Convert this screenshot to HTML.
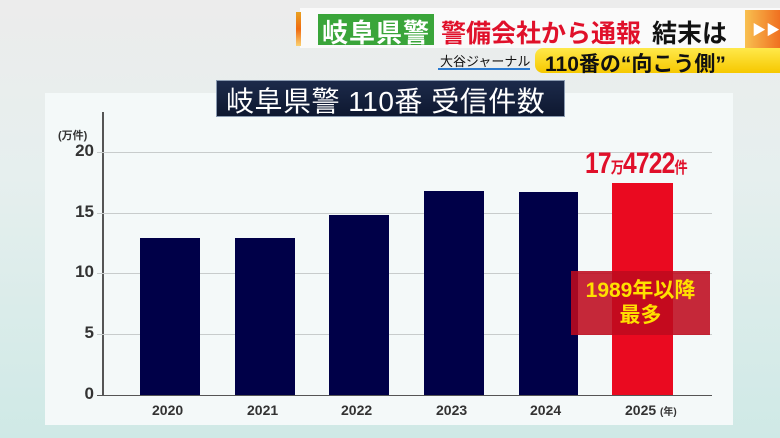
<!DOCTYPE html>
<html><head><meta charset="utf-8"><style>
body{margin:0;width:780px;height:438px;overflow:hidden;position:relative;font-family:"Liberation Sans","Noto Sans CJK JP",sans-serif;
background:linear-gradient(180deg,#ececec 0%,#e6efee 40%,#cfe9e6 100%);}
.a{position:absolute}
.t{position:absolute;font-weight:bold;white-space:nowrap}
</style></head><body>
<div class="a" style="left:45px;top:93px;width:688px;height:332px;background:#f4f9f9"></div>
<!-- header -->
<div class="a" style="left:300px;top:8px;width:480px;height:40px;background:#fafafa"></div>
<div class="a" style="left:296px;top:12px;width:5px;height:34px;background:linear-gradient(#e8a020,#f06a10,#fad070)"></div>
<div class="a" style="left:745px;top:10px;width:35px;height:40px;background:linear-gradient(90deg,#f8c050,#f07020)"></div>
<div class="t" style="left:752px;top:20px;color:#fff;font-size:14px">▶▶</div>
<div class="a" style="left:318px;top:14px;width:116px;height:31px;background:#3aa53a"></div>
<div class="t" style="left:322px;top:13px;color:#fff;font-size:26px;letter-spacing:1px">岐阜県警</div>
<div class="t" style="left:441px;top:14px;color:#e0102a;font-size:25px">警備会社から通報</div>
<div class="t" style="left:652px;top:14px;color:#111;font-size:25px">結末は</div>
<div class="a" style="left:535px;top:48px;width:245px;height:25px;background:linear-gradient(#ffe94a,#f6c800);border-radius:8px 0 0 8px"></div>
<div class="t" style="left:545px;top:48px;color:#111;font-size:21px">110番の“向こう側”</div>
<div class="t" style="left:440px;top:51px;color:#111;font-size:13px;font-weight:normal">大谷ジャーナル</div>
<div class="a" style="left:438px;top:68px;width:92px;height:2px;background:#2a7ad0"></div>
<!-- title -->
<div class="a" style="left:216px;top:80px;width:347px;height:35px;background:linear-gradient(#1c2a4a,#0e1830);border:1px solid #8a9ab0"></div>
<div class="t" style="left:226px;top:80px;color:#fff;font-size:28px;font-weight:normal;letter-spacing:0.5px">岐阜県警 110番 受信件数</div>
<!-- axes -->
<div class="a" style="left:102px;top:112px;width:1.5px;height:284px;background:#555"></div>
<div class="a" style="left:97px;top:394.5px;width:615px;height:1.5px;background:#555"></div>
<div class="a" style="left:97px;top:152px;width:615px;height:1px;background:#c8cccc"></div>
<div class="a" style="left:97px;top:213px;width:615px;height:1px;background:#c8cccc"></div>
<div class="a" style="left:97px;top:273px;width:615px;height:1px;background:#c8cccc"></div>
<div class="a" style="left:97px;top:334px;width:615px;height:1px;background:#c8cccc"></div>
<div class="t" style="left:58px;top:127px;font-size:11px;color:#333">(万件)</div>
<div class="t" style="left:70px;top:141px;font-size:17px;color:#333;width:24px;text-align:right">20</div>
<div class="t" style="left:70px;top:202px;font-size:17px;color:#333;width:24px;text-align:right">15</div>
<div class="t" style="left:70px;top:262px;font-size:17px;color:#333;width:24px;text-align:right">10</div>
<div class="t" style="left:70px;top:323px;font-size:17px;color:#333;width:24px;text-align:right">5</div>
<div class="t" style="left:70px;top:384px;font-size:17px;color:#333;width:24px;text-align:right">0</div>
<!-- bars -->
<div class="a" style="left:140px;top:238px;width:60px;height:157px;background:#000048"></div>
<div class="a" style="left:235px;top:238px;width:60px;height:157px;background:#000048"></div>
<div class="a" style="left:329px;top:215px;width:60px;height:180px;background:#000048"></div>
<div class="a" style="left:424px;top:191px;width:60px;height:204px;background:#000048"></div>
<div class="a" style="left:519px;top:192px;width:59px;height:203px;background:#000048"></div>
<div class="a" style="left:612px;top:183px;width:61px;height:212px;background:#ea0a20"></div>
<div class="a" style="left:571px;top:271px;width:139px;height:64px;background:rgba(190,10,30,0.88)"></div>
<div class="t" style="left:571px;top:278px;width:139px;text-align:center;color:#ffe000;font-size:21px;line-height:25px">1989年以降<br>最多</div>
<div class="t" style="left:585px;top:147px;color:#e0102a;font-size:30px;letter-spacing:-1px;transform:scaleX(0.82);transform-origin:left top">17<span style="font-size:16px">万</span>4722<span style="font-size:16px">件</span></div>
<div class="t" style="left:152px;top:402px;font-size:14px;color:#333">2020</div>
<div class="t" style="left:247px;top:402px;font-size:14px;color:#333">2021</div>
<div class="t" style="left:341px;top:402px;font-size:14px;color:#333">2022</div>
<div class="t" style="left:436px;top:402px;font-size:14px;color:#333">2023</div>
<div class="t" style="left:530px;top:402px;font-size:14px;color:#333">2024</div>
<div class="t" style="left:625px;top:402px;font-size:14px;color:#333">2025 <span style="font-size:10px">(年)</span></div>
</body></html>
